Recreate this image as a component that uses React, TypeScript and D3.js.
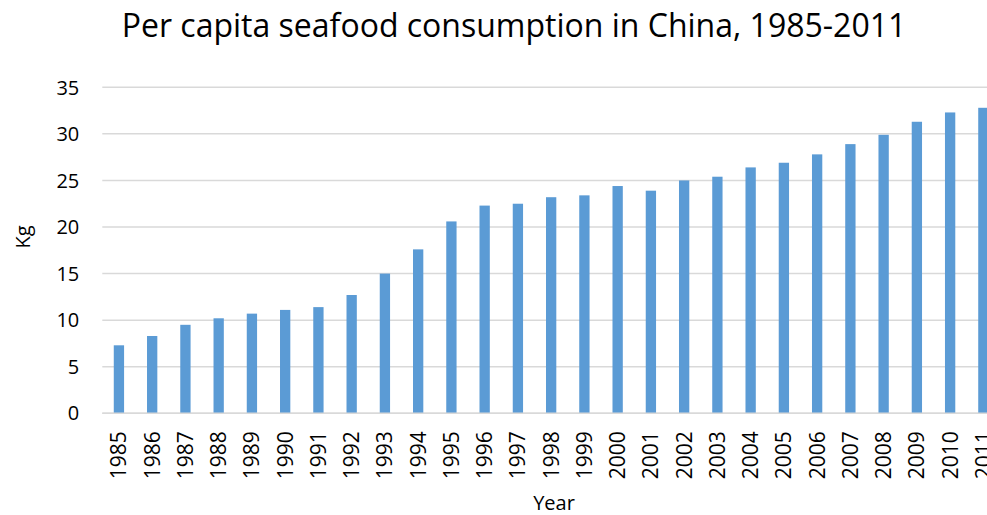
import React, { useEffect, useRef } from "react";
import * as d3 from "d3";

const years = [
  "1985", "1986", "1987", "1988", "1989", "1990", "1991", "1992", "1993",
  "1994", "1995", "1996", "1997", "1998", "1999", "2000", "2001", "2002",
  "2003", "2004", "2005", "2006", "2007", "2008", "2009", "2010", "2011",
];
const kgPerCapita = [
  7.3, 8.3, 9.5, 10.2, 10.7, 11.1, 11.4, 12.7, 15.0,
  17.6, 20.6, 22.3, 22.5, 23.2, 23.4, 24.4, 23.9, 25.0,
  25.4, 26.4, 26.9, 27.8, 28.9, 29.9, 31.3, 32.3, 32.8,
];
const yTicks = [0, 5, 10, 15, 20, 25, 30, 35];

const title = "Per capita seafood consumption in China, 1985-2011";
const font = "'Open Sans', 'DejaVu Sans', sans-serif";

function renderChart(el: SVGSVGElement) {
  const width = 987;
  const height = 515;
  const margin = { top: 87.3, right: -13, bottom: 101.7, left: 102.3 };
  const innerW = width - margin.left - margin.right;
  const innerH = height - margin.top - margin.bottom;

  const svg = d3.select(el);
  svg.selectAll("*").remove();

  svg
    .append("text")
    .attr("x", 514)
    .attr("y", 37)
    .attr("text-anchor", "middle")
    .attr("font-family", font)
    .attr("font-size", 32)
    .attr("fill", "#000")
    .text(title);

  const canvas = svg.append("g").attr("transform", "translate(" + margin.left + "," + margin.top + ")");

  const xScale = d3.scaleBand().domain(years).range([0, innerW]).paddingInner(0.69).paddingOuter(0.345);
  const yScale = d3.scaleLinear().domain([0, 35]).range([innerH, 0]);

  // gridlines
  canvas
    .selectAll("line.grid")
    .data(yTicks)
    .enter()
    .append("line")
    .attr("class", "grid")
    .attr("x1", 0)
    .attr("x2", innerW)
    .attr("y1", (d) => yScale(d))
    .attr("y2", (d) => yScale(d))
    .attr("stroke", "#d9d9d9")
    .attr("stroke-width", 1.5);

  canvas
    .selectAll("rect")
    .data(kgPerCapita)
    .enter()
    .append("rect")
    .attr("x", (d, i) => xScale(years[i]) as number)
    .attr("y", (d) => yScale(d))
    .attr("width", xScale.bandwidth())
    .attr("height", (d) => innerH - yScale(d))
    .attr("fill", "#5b9bd5");

  // baseline
  canvas
    .append("line")
    .attr("x1", 0)
    .attr("x2", innerW)
    .attr("y1", innerH)
    .attr("y2", innerH)
    .attr("stroke", "#d9d9d9")
    .attr("stroke-width", 1.5);

  // y tick labels
  canvas
    .selectAll("text.ytick")
    .data(yTicks)
    .enter()
    .append("text")
    .attr("class", "ytick")
    .attr("x", -23)
    .attr("y", (d) => yScale(d))
    .attr("dy", "0.36em")
    .attr("text-anchor", "end")
    .attr("font-family", font)
    .attr("font-size", 20)
    .attr("fill", "#000")
    .text((d) => d);

  // x tick labels, rotated
  canvas
    .selectAll("text.xtick")
    .data(years)
    .enter()
    .append("text")
    .attr("class", "xtick")
    .attr(
      "transform",
      (d) => "translate(" + ((xScale(d) as number) + xScale.bandwidth() / 2) + "," + (innerH + 18) + ") rotate(-90)"
    )
    .attr("dy", "0.36em")
    .attr("text-anchor", "end")
    .attr("font-family", font)
    .attr("font-size", 21)
    .attr("fill", "#000")
    .text((d) => d);

  svg
    .append("text")
    .attr("x", 554)
    .attr("y", 510)
    .attr("text-anchor", "middle")
    .attr("font-family", font)
    .attr("font-size", 20)
    .attr("fill", "#000")
    .text("Year");

  svg
    .append("text")
    .attr("transform", "translate(30,237) rotate(-90)")
    .attr("text-anchor", "middle")
    .attr("font-family", font)
    .attr("font-size", 20)
    .attr("fill", "#000")
    .text("Kg");
}

const App: React.FC = () => {
  const ref = useRef<SVGSVGElement>(null);
  useEffect(() => {
    document.body.style.margin = "0";
    if (ref.current) renderChart(ref.current);
  }, []);
  return <svg ref={ref} width={987} height={515} style={{ display: "block", background: "#fff" }} />;
};

export default App;
